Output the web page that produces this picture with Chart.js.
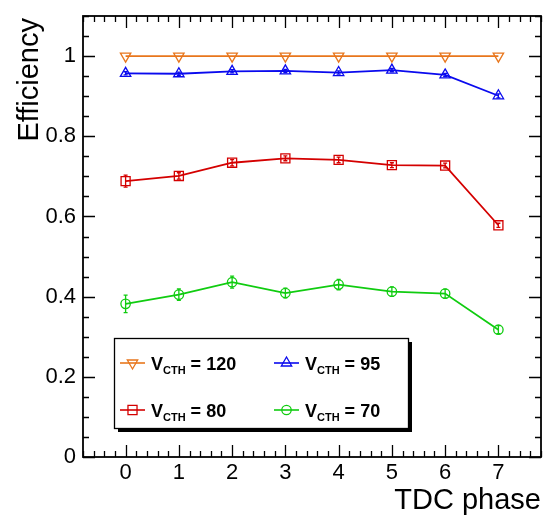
<!DOCTYPE html>
<html>
<head>
<meta charset="utf-8">
<script src="https://cdn.jsdelivr.net/npm/chart.js@4.4.1/dist/chart.umd.min.js"></script>
<style>
  html, body { margin: 0; padding: 0; background: #ffffff; }
  #wrap { width: 544px; height: 516px; }
</style>
</head>
<body>
<div id="wrap"><canvas id="c" width="544" height="516"></canvas></div>
<script>
// ---- data ----
const phases = [0, 1, 2, 3, 4, 5, 6, 7];
const vcthLabels = ['120', '95', '80', '70'];
const eff120 = [1.0, 1.0, 1.0, 1.0, 1.0, 1.0, 1.0, 1.0];
const err120 = [0, 0, 0, 0, 0, 0, 0, 0];
const eff95 = [0.957, 0.956, 0.962, 0.963, 0.959, 0.965, 0.953, 0.901];
const err95 = [0.004, 0.004, 0.004, 0.004, 0.004, 0.004, 0.004, 0.005];
const eff80 = [0.688, 0.701, 0.734, 0.745, 0.741, 0.728, 0.727, 0.578];
const err80 = [0.015, 0.008, 0.008, 0.006, 0.007, 0.006, 0.006, 0.005];
const eff70 = [0.382, 0.405, 0.436, 0.409, 0.430, 0.4125, 0.4075, 0.3175];
const err70 = [0.022, 0.014, 0.015, 0.012, 0.013, 0.012, 0.011, 0.010];
const xTickValues = [0, 1, 2, 3, 4, 5, 6, 7];
const yTickValues = [0, 0.2, 0.4, 0.6, 0.8, 1.0];
const xTitle = 'TDC phase';
const yTitle = 'Efficiency';

const FONT = "'Liberation Sans', Arial, Helvetica, sans-serif";

function mkData(vals) { return phases.map((p, i) => ({ x: p, y: vals[i] })); }

const series = [
  { vals: eff120, errs: err120, color: '#e8761c', style: 'triangle', rot: 180, r: 6.0, label: vcthLabels[0] },
  { vals: eff95,  errs: err95,  color: '#0a0aee', style: 'triangle', rot: 0,   r: 6.0, label: vcthLabels[1] },
  { vals: eff80,  errs: err80,  color: '#d40000', style: 'rect',     rot: 0,   r: 6.4, label: vcthLabels[2] },
  { vals: eff70,  errs: err70,  color: '#10cc10', style: 'circle',   rot: 0,   r: 4.7, label: vcthLabels[3] }
];

const datasets = series.map(s => ({
  label: s.label,
  data: mkData(s.vals),
  errs: s.errs,
  showLine: true,
  tension: 0,
  borderColor: s.color,
  backgroundColor: 'rgba(0,0,0,0)',
  borderWidth: 1.8,
  pointStyle: s.style,
  pointRotation: s.rot,
  pointRadius: s.r,
  pointHoverRadius: s.r,
  pointBorderColor: s.color,
  pointBackgroundColor: 'rgba(0,0,0,0)',
  pointBorderWidth: 1.3,
  fill: false
}));

// frame + inward ticks on all four sides
const framePlugin = {
  id: 'frame',
  beforeDatasetsDraw(chart) {
    const ctx = chart.ctx, a = chart.chartArea;
    const xs = chart.scales.x, ys = chart.scales.y;
    ctx.save();
    ctx.strokeStyle = '#000';
    ctx.lineWidth = 1.3;
    const majL = 12, minL = 6;
    for (let k = 0; ; k++) {
      const v = xs.min + k * 0.2;
      if (v > xs.max + 1e-6) break;
      const isMaj = xTickValues.some(t => Math.abs(t - v) < 1e-6);
      const L = isMaj ? majL : minL;
      const px = Math.round(xs.getPixelForValue(v)) + 0.5;
      ctx.beginPath();
      ctx.moveTo(px, a.bottom); ctx.lineTo(px, a.bottom - L);
      ctx.moveTo(px, a.top); ctx.lineTo(px, a.top + L);
      ctx.stroke();
    }
    for (let k = 0; ; k++) {
      const v = ys.min + k * 0.05;
      if (v > ys.max + 1e-6) break;
      const isMaj = yTickValues.some(t => Math.abs(t - v) < 1e-6);
      const L = isMaj ? majL : minL;
      const py = Math.round(ys.getPixelForValue(v)) + 0.5;
      ctx.beginPath();
      ctx.moveTo(a.left, py); ctx.lineTo(a.left + L, py);
      ctx.moveTo(a.right, py); ctx.lineTo(a.right - L, py);
      ctx.stroke();
    }
    ctx.lineWidth = 1.8;
    ctx.strokeRect(a.left, a.top, a.right - a.left, a.bottom - a.top);
    ctx.restore();
  }
};

// vertical error bars
const errPlugin = {
  id: 'errbars',
  afterDatasetsDraw(chart) {
    const ctx = chart.ctx, xs = chart.scales.x, ys = chart.scales.y;
    ctx.save();
    chart.data.datasets.forEach(ds => {
      ctx.strokeStyle = ds.borderColor;
      ctx.lineWidth = 1.3;
      ds.data.forEach((pt, i) => {
        const e = ds.errs[i];
        if (!e) return;
        const px = xs.getPixelForValue(pt.x);
        const y1 = ys.getPixelForValue(pt.y - e);
        const y2 = ys.getPixelForValue(pt.y + e);
        if (Math.abs(y1 - y2) < 3) return;
        ctx.beginPath();
        ctx.moveTo(px, y1); ctx.lineTo(px, y2);
        ctx.moveTo(px - 2, y1); ctx.lineTo(px + 2, y1);
        ctx.moveTo(px - 2, y2); ctx.lineTo(px + 2, y2);
        ctx.stroke();
      });
    });
    ctx.restore();
  }
};

// axis titles and legend box
const decoPlugin = {
  id: 'deco',
  afterDraw(chart) {
    const ctx = chart.ctx, a = chart.chartArea;
    ctx.save();
    ctx.fillStyle = '#000';
    ctx.font = '29px ' + FONT;
    ctx.textBaseline = 'alphabetic';
    ctx.textAlign = 'right';
    ctx.fillText(xTitle, a.right, 509);
    ctx.save();
    ctx.translate(38, a.top + 2);
    ctx.rotate(-Math.PI / 2);
    ctx.textAlign = 'right';
    ctx.fillText(yTitle, 0, 0);
    ctx.restore();

    // legend
    const bx = 114, by = 338, bw = 294, bh = 90;
    ctx.fillStyle = '#000';
    ctx.fillRect(bx + 4, by + 4, bw, bh);
    ctx.fillStyle = '#fff';
    ctx.fillRect(bx, by, bw, bh);
    ctx.strokeStyle = '#000';
    ctx.lineWidth = 1.3;
    ctx.strokeRect(bx + 0.5, by + 0.5, bw, bh);

    const order = [0, 1, 2, 3];
    const cols = [120, 274];
    const rows = [363, 410];
    order.forEach((di, k) => {
      const ds = chart.data.datasets[di];
      const x0 = cols[k % 2], y0 = rows[Math.floor(k / 2)];
      ctx.strokeStyle = ds.borderColor;
      ctx.lineWidth = 1.6;
      ctx.beginPath();
      ctx.moveTo(x0, y0); ctx.lineTo(x0 + 25, y0);
      ctx.stroke();
      ctx.lineWidth = ds.pointBorderWidth;
      ctx.fillStyle = 'rgba(0,0,0,0)';
      Chart.helpers.drawPoint(ctx, {
        pointStyle: ds.pointStyle, rotation: ds.pointRotation,
        radius: ds.pointRadius, borderWidth: ds.pointBorderWidth
      }, x0 + 12.5, y0);
      ctx.fillStyle = '#000';
      ctx.textAlign = 'left';
      ctx.textBaseline = 'alphabetic';
      let tx = x0 + 31;
      const base = y0 + 6.5;
      ctx.font = 'bold 18px ' + FONT;
      ctx.fillText('V', tx, base);
      tx += ctx.measureText('V').width;
      ctx.font = 'bold 11px ' + FONT;
      ctx.fillText('CTH', tx, base + 4);
      tx += ctx.measureText('CTH').width;
      ctx.font = 'bold 18px ' + FONT;
      ctx.fillText(' = ' + ds.label, tx, base);
    });
    ctx.restore();
  }
};

new Chart(document.getElementById('c'), {
  type: 'scatter',
  data: { datasets },
  plugins: [framePlugin, errPlugin, decoPlugin],
  options: {
    responsive: false,
    animation: false,
    events: [],
    layout: { autoPadding: false, padding: { top: 16, right: 3, left: 0, bottom: 0 } },
    plugins: { legend: { display: false }, tooltip: { enabled: false }, title: { display: false } },
    scales: {
      x: {
        type: 'linear',
        min: -0.8, max: 7.8,
        afterBuildTicks: s => { s.ticks = xTickValues.map(v => ({ value: v })); },
        afterFit: s => { s.height = 59; s.paddingLeft = 0; s.paddingRight = 0; },
        grid: { display: false, drawTicks: false },
        border: { display: false },
        ticks: {
          color: '#000', font: { family: FONT, size: 22 }, padding: 3,
          maxRotation: 0, autoSkip: false,
          callback: v => String(v)
        }
      },
      y: {
        type: 'linear',
        min: 0, max: 1.1,
        afterBuildTicks: s => { s.ticks = yTickValues.map(v => ({ value: v })); },
        afterFit: s => { s.width = 83; s.paddingTop = 0; s.paddingBottom = 0; },
        grid: { display: false, drawTicks: false },
        border: { display: false },
        ticks: {
          color: '#000', font: { family: FONT, size: 22 }, padding: 7,
          autoSkip: false,
          callback: v => String(Math.round(v * 10) / 10)
        }
      }
    }
  }
});
</script>
</body>
</html>
